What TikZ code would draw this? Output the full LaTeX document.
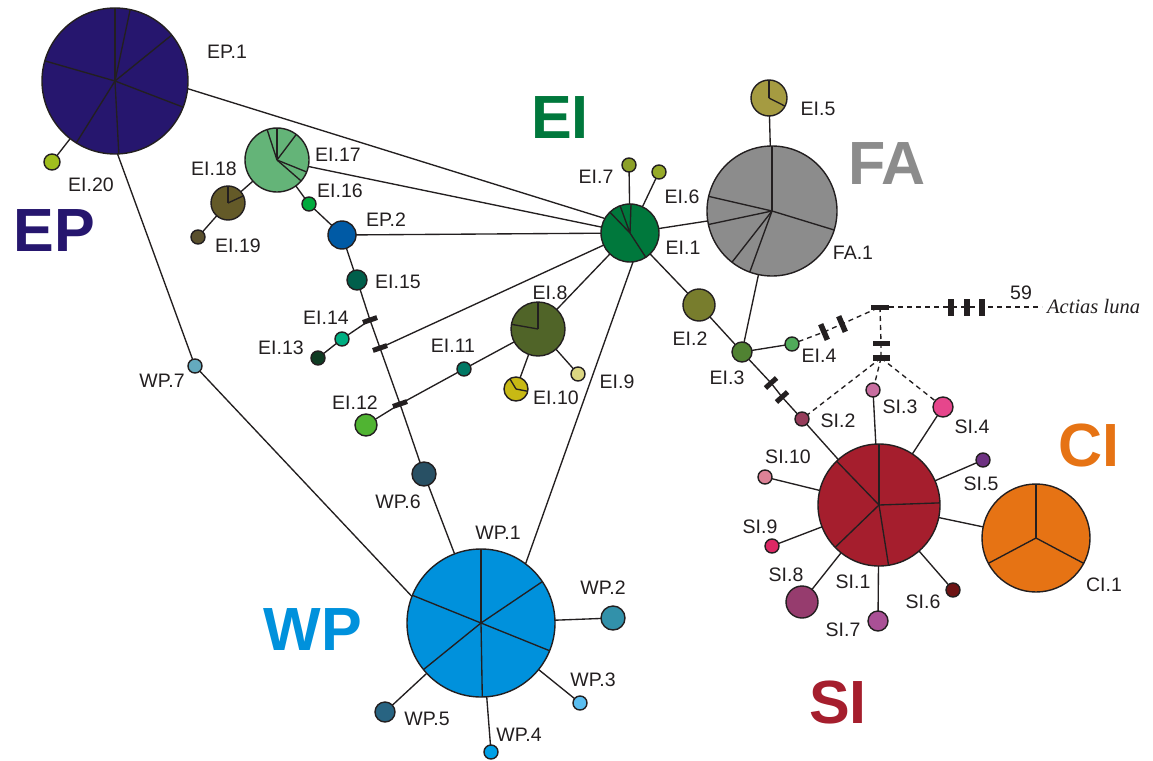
\documentclass[tikz,border=0pt]{standalone}
\usepackage{fontspec}
\setmainfont{Liberation Sans}
\newfontfamily\serifit{Liberation Serif}
\usetikzlibrary{backgrounds}
\definecolor{ink}{RGB}{35,31,32}
\definecolor{cEP}{RGB}{38,22,110}
\definecolor{cEI}{RGB}{0,120,60}
\definecolor{cFA}{RGB}{140,140,140}
\definecolor{cCI}{RGB}{230,115,20}
\definecolor{cSI}{RGB}{165,30,45}
\definecolor{cWP}{RGB}{0,145,220}
\tikzset{
  hap/.style={circle, draw=ink, line width=1.4pt, inner sep=0pt, outer sep=0pt, minimum size=#1},
  lab/.style={text=ink, font=\fontsize{19.5}{20}\selectfont, inner sep=0pt},
  big/.style={font=\fontsize{61}{61}\selectfont\bfseries, inner sep=0pt},
  link/.style={draw=ink, line width=1.35pt},
  dlink/.style={draw=ink, line width=1.35pt, dash pattern=on 5pt off 4pt},
  mut/.style={rectangle, fill=ink, draw=none, minimum width=5pt, minimum height=15pt, inner sep=0pt},
  slice/.style={draw=ink, line width=1.35pt}
}
\newcommand\slices[2]{\foreach \a in {#2} {\draw[slice] (#1.center) -- (#1.\a);}}
\begin{document}
\begin{tikzpicture}[x=1pt,y=-1pt]
\useasboundingbox (0,0) rectangle (1153,760);

% ---- haplotypes ----
\node[hap=146pt, fill=cEP] (EP1) at (115,81) {};
\node[hap=16pt, fill={rgb,255:red,160;green,190;blue,30}] (EI20) at (52,162) {};
\node[hap=64pt, fill={rgb,255:red,100;green,180;blue,120}] (EI17) at (277,160) {};
\node[hap=34pt, fill={rgb,255:red,100;green,90;blue,40}] (EI18) at (228,203) {};
\node[hap=14pt, fill={rgb,255:red,90;green,80;blue,45}] (EI19) at (198,237) {};
\node[hap=14pt, fill={rgb,255:red,0;green,170;blue,60}] (EI16) at (309,204) {};
\node[hap=28pt, fill={rgb,255:red,0;green,90;blue,165}] (EP2) at (342,235) {};
\node[hap=20pt, fill={rgb,255:red,0;green,95;blue,75}] (EI15) at (357,280) {};
\node[hap=14pt, fill={rgb,255:red,0;green,175;blue,130}] (EI14) at (342,339) {};
\node[hap=14pt, fill={rgb,255:red,15;green,60;blue,35}] (EI13) at (318,358) {};
\node[hap=22pt, fill={rgb,255:red,80;green,180;blue,50}] (EI12) at (366,425) {};
\node[hap=14pt, fill={rgb,255:red,0;green,120;blue,100}] (EI11) at (464,369) {};
\node[hap=54pt, fill={rgb,255:red,80;green,100;blue,40}] (EI8) at (538,329) {};
\node[hap=24pt, fill={rgb,255:red,200;green,185;blue,20}] (EI10) at (516,389) {};
\node[hap=14pt, fill={rgb,255:red,220;green,215;blue,130}] (EIx) at (578,374) {};
\node[hap=58pt, fill=cEI] (EI1) at (630,233) {};
\node[hap=14pt, fill={rgb,255:red,140;green,160;blue,40}] (EI7) at (629,165) {};
\node[hap=14pt, fill={rgb,255:red,150;green,170;blue,40}] (EI6) at (659,172) {};
\node[hap=130pt, fill=cFA] (FA1) at (772,211) {};
\node[hap=36pt, fill={rgb,255:red,165;green,155;blue,65}] (EI5) at (769,98) {};
\node[hap=32pt, fill={rgb,255:red,120;green,125;blue,45}] (EI2) at (699,305) {};
\node[hap=20pt, fill={rgb,255:red,80;green,130;blue,50}] (EI3) at (742,352) {};
\node[hap=14pt, fill={rgb,255:red,80;green,170;blue,90}] (EI4) at (792,344) {};
\node[hap=14pt, fill={rgb,255:red,150;green,60;blue,90}] (SI2) at (802,419) {};
\node[hap=14pt, fill={rgb,255:red,200;green,110;blue,160}] (SI3) at (873,390) {};
\node[hap=20pt, fill={rgb,255:red,230;green,70;blue,140}] (SI4) at (943,407) {};
\node[hap=122pt, fill=cSI] (SI1) at (879,505) {};
\node[hap=14pt, fill={rgb,255:red,110;green,50;blue,130}] (SI5) at (983,460) {};
\node[hap=14pt, fill={rgb,255:red,110;green,20;blue,20}] (SI6) at (953,590) {};
\node[hap=20pt, fill={rgb,255:red,170;green,80;blue,150}] (SI7) at (878,621) {};
\node[hap=32pt, fill={rgb,255:red,150;green,60;blue,110}] (SI8) at (802,602) {};
\node[hap=14pt, fill={rgb,255:red,220;green,40;blue,100}] (SI9) at (772,546) {};
\node[hap=14pt, fill={rgb,255:red,220;green,130;blue,150}] (SI10) at (765,477) {};
\node[hap=108pt, fill=cCI] (CI1) at (1036,538) {};
\node[hap=148pt, fill=cWP] (WP1) at (481,623) {};
\node[hap=24pt, fill={rgb,255:red,50;green,145;blue,170}] (WP2) at (613,618) {};
\node[hap=14pt, fill={rgb,255:red,90;green,190;blue,240}] (WP3) at (580,703) {};
\node[hap=14pt, fill={rgb,255:red,0;green,160;blue,230}] (WP4) at (491,752) {};
\node[hap=20pt, fill={rgb,255:red,40;green,100;blue,130}] (WP5) at (385,712) {};
\node[hap=24pt, fill={rgb,255:red,40;green,80;blue,100}] (WP6) at (424,474) {};
\node[hap=14pt, fill={rgb,255:red,100;green,170;blue,190}] (WP7) at (195,366) {};

% ---- pie slices ----
\slices{EP1}{90,78,39,339,273,238,164}
\slices{EI17}{108,90,53,338,319}
\slices{EI18}{90,25}
\slices{EI8}{90,170}
\slices{EI10}{121,349}
\slices{EI1}{134,110,88,303}
\slices{FA1}{90,343,250,232,192,167}
\slices{EI5}{90,333}
\slices{SI1}{90,2,279,224,134}
\slices{CI1}{90,332,208}
\slices{WP1}{90,34,338,271,219,158}

% ---- mutation marks ----
\node[mut, rotate=-71] (b1) at (370,320) {};
\node[mut, rotate=-71] (b2) at (380,348) {};
\node[mut, rotate=-71] (b3) at (400,404) {};
\node[mut, rotate=-48] (b4) at (771,383) {};
\node[mut, rotate=-48] (b5) at (782,397) {};
\node[mut, rotate=23, minimum height=17pt, minimum width=5.5pt] (b6) at (824,332) {};
\node[mut, rotate=23, minimum height=17pt, minimum width=5.5pt] (b7) at (842,324) {};
\node[mut, rotate=90, minimum height=18pt] (J) at (880,307) {};
\node[mut, rotate=90, minimum height=17pt] (b8) at (881,343) {};
\node[mut, rotate=90, minimum height=17pt, minimum width=6pt] (b9) at (881,358) {};
\node[mut, minimum height=17pt, minimum width=5.5pt] (b10) at (951,307) {};
\node[mut, minimum height=17pt, minimum width=5.5pt] (b11) at (967,307) {};
\node[mut, minimum height=17pt, minimum width=5.5pt] (b12) at (982,307) {};

% ---- labels ----
\node[anchor=west, inner sep=0pt, text=ink, font=\serifit\itshape\fontsize{20.5}{21}\selectfont] (AL) at (1047,307) {Actias luna};
\node[lab] (l59) at (1021,293) {59};
\node[lab] (lEP1) at (227,52) {EP.1};
\node[lab] (lEI20) at (91,185) {EI.20};
\node[lab] (lEI17) at (338,155) {EI.17};
\node[lab] (lEI18) at (214,169) {EI.18};
\node[lab] (lEI16) at (340,191) {EI.16};
\node[lab] (lEI19) at (238,246) {EI.19};
\node[lab] (lEP2) at (386,220) {EP.2};
\node[lab] (lEI15) at (398,282) {EI.15};
\node[lab] (lEI14) at (326,318) {EI.14};
\node[lab] (lEI13) at (281,348) {EI.13};
\node[lab] (lEI11) at (453,346) {EI.11};
\node[lab] (lEI12) at (355,403) {EI.12};
\node[lab] (lEI8) at (550,293) {EI.8};
\node[lab] (lEI10) at (556,398) {EI.10};
\node[lab] (lEI9) at (617,382) {EI.9};
\node[lab] (lEI7) at (596,177) {EI.7};
\node[lab] (lEI6) at (682,197) {EI.6};
\node[lab] (lEI1) at (683,248) {EI.1};
\node[lab] (lEI2) at (690,339) {EI.2};
\node[lab] (lEI3) at (727,378) {EI.3};
\node[lab] (lEI4) at (819,356) {EI.4};
\node[lab] (lEI5) at (818,109) {EI.5};
\node[lab] (lFA1) at (853,253) {FA.1};
\node[lab] (lWP7) at (162,381) {WP.7};
\node[lab] (lWP1) at (498,533) {WP.1};
\node[lab] (lWP2) at (603,588) {WP.2};
\node[lab] (lWP3) at (593,680) {WP.3};
\node[lab] (lWP4) at (519,735) {WP.4};
\node[lab] (lWP5) at (427,719) {WP.5};
\node[lab] (lWP6) at (398,502) {WP.6};
\node[lab] (lSI1) at (853,582) {SI.1};
\node[lab] (lSI2) at (838,421) {SI.2};
\node[lab] (lSI3) at (900,407) {SI.3};
\node[lab] (lSI4) at (972,427) {SI.4};
\node[lab] (lSI5) at (981,484) {SI.5};
\node[lab] (lSI6) at (923,602) {SI.6};
\node[lab] (lSI7) at (843,630) {SI.7};
\node[lab] (lSI8) at (786,575) {SI.8};
\node[lab] (lSI9) at (760,527) {SI.9};
\node[lab] (lSI10) at (788,457) {SI.10};
\node[lab] (lCI1) at (1104,585) {CI.1};

\node[big, text=cEP] (tEP) at (54,231) {EP};
\node[big, text=cEI] (tEI) at (560,118) {EI};
\node[big, text=cFA] (tFA) at (887,164) {FA};
\node[big, text=cCI] (tCI) at (1089,445) {CI};
\node[big, text=cSI] (tSI) at (838,702) {SI};
\node[big, text=cWP] (tWP) at (313,630) {WP};

% ---- connectors (under the nodes) ----
\begin{pgfonlayer}{background}
\fill[white] (0,0) rectangle (1153,760);
\draw[link] (EP1) -- (EI20);
\draw[link] (EP1.272) -- (WP7);
\draw[link] (WP7) -- (WP1.159);
\draw[link] (EP1.354) -- (EI1.150);
\draw[link] (EI17) -- (EI1);
\draw[link] (EI17) -- (EI18);
\draw[link] (EI18) -- (EI19);
\draw[link] (EI17) -- (EI16);
\draw[link] (EI16) -- (EP2);
\draw[link] (EP2) -- (EI1);
\draw[link] (EP2) -- (EI15);
\draw[link] (EI15) -- (b1.center) -- (b2.center) -- (b3.center) -- (WP6);
\draw[link] (WP6) -- (WP1);
\draw[link] (b1.center) -- (EI14);
\draw[link] (EI14) -- (EI13);
\draw[link] (b2.center) -- (EI1);
\draw[link] (EI12) -- (b3.center);
\draw[link] (b3.center) -- (EI11);
\draw[link] (EI11) -- (EI8);
\draw[link] (EI8) -- (EI1);
\draw[link] (EI8) -- (EI10);
\draw[link] (EI8) -- (EIx);
\draw[link] (EI1.276) -- (WP1.53);
\draw[link] (EI1) -- (EI7);
\draw[link] (EI1) -- (EI6);
\draw[link] (EI1) -- (FA1);
\draw[link] (FA1) -- (EI5);
\draw[link] (EI1) -- (EI2);
\draw[link] (EI2) -- (EI3);
\draw[link] (FA1) -- (EI3);
\draw[link] (EI3) -- (EI4);
\draw[link] (EI3) -- (b4.center) -- (b5.center) -- (SI2);
\draw[link] (SI2) -- (SI1);
\draw[link] (SI3) -- (SI1);
\draw[link] (SI4) -- (SI1);
\draw[link] (SI1) -- (SI5);
\draw[link] (SI1) -- (SI6);
\draw[link] (SI1) -- (SI7);
\draw[link] (SI1) -- (SI8);
\draw[link] (SI1) -- (SI9);
\draw[link] (SI1) -- (SI10);
\draw[link] (SI1) -- (CI1);
\draw[link] (WP1) -- (WP2);
\draw[link] (WP1) -- (WP3);
\draw[link] (WP1) -- (WP4);
\draw[link] (WP1) -- (WP5);
\draw[dlink] (EI4) -- (b6.center) -- (b7.center) -- (J.center);
\draw[dlink] (J.center) -- (b8.center) -- (b9.center);
\draw[dlink] (b9.center) -- (SI2);
\draw[dlink] (b9.center) -- (SI3);
\draw[dlink] (b9.center) -- (SI4);
\draw[dlink] (J.center) -- (b10.center) -- (b11.center) -- (b12.center) -- ([xshift=-5pt]AL.west);
\end{pgfonlayer}
\end{tikzpicture}
\end{document}
